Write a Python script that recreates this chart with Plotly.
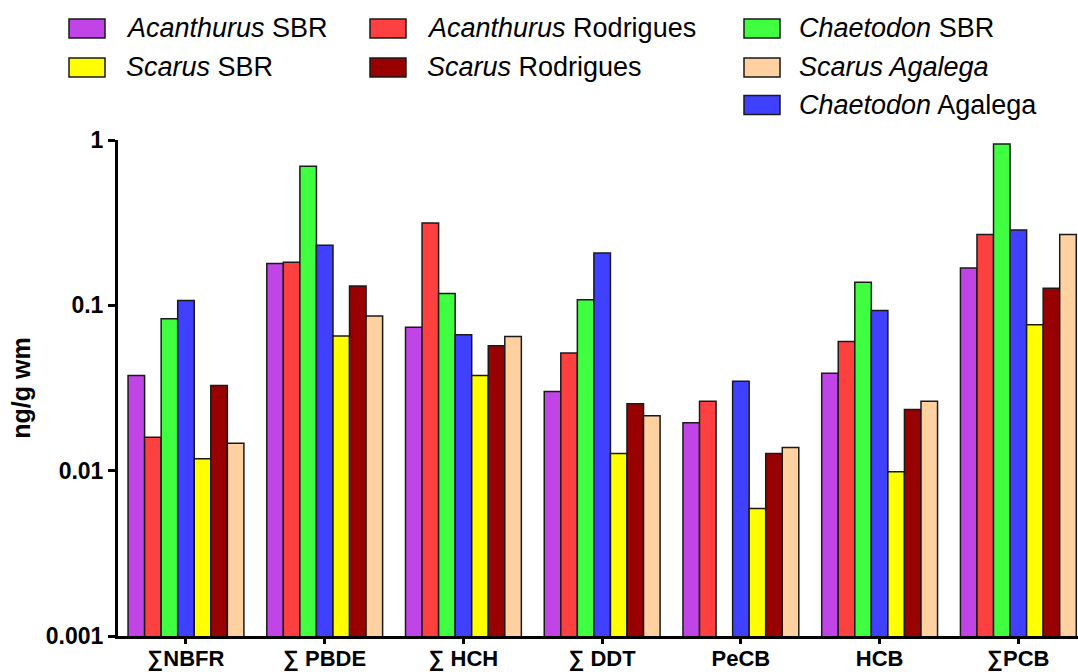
import plotly.graph_objects as go

categories = ["∑NBFR", "∑ PBDE", "∑ HCH", "∑ DDT", "PeCB", "HCB", "∑PCB"]

acanthurus_sbr = [0.0376, 0.179, 0.0736, 0.0301, 0.0195, 0.0389, 0.168]
acanthurus_rod = [0.0159, 0.182, 0.315, 0.0514, 0.0263, 0.0605, 0.268]
chaetodon_sbr = [0.083, 0.695, 0.118, 0.108, None, 0.138, 0.946]
chaetodon_aga = [0.107, 0.231, 0.0664, 0.207, 0.0348, 0.0929, 0.286]
scarus_sbr = [0.0118, 0.0652, 0.0376, 0.0127, 0.0059, 0.00986, 0.0764]
scarus_rod = [0.0327, 0.131, 0.057, 0.0254, 0.0127, 0.0234, 0.127]
scarus_aga = [0.01465, 0.0861, 0.0649, 0.0215, 0.0138, 0.0263, 0.268]

# name, values, colour, legend column, legend row
series = [
    ("<i>Acanthurus</i> SBR", acanthurus_sbr, "#C145E6", 0, 0),
    ("<i>Acanthurus</i> Rodrigues", acanthurus_rod, "#FF4040", 1, 0),
    ("<i>Chaetodon</i> SBR", chaetodon_sbr, "#40FF40", 2, 0),
    ("<i>Chaetodon</i> Agalega", chaetodon_aga, "#4040FF", 2, 2),
    ("<i>Scarus</i> SBR", scarus_sbr, "#FFFF00", 0, 1),
    ("<i>Scarus</i> Rodrigues", scarus_rod, "#990000", 1, 1),
    ("<i>Scarus Agalega</i>", scarus_aga, "#FFD0A0", 2, 1),
]

FONT = "Liberation Sans, Arial"
W, H = 1078, 672
ML, MR, MT, MB = 118, 0, 140, 36
PW, PH = W - ML - MR, H - MT - MB


def px_x(x):
    return (x - ML) / PW


def px_y(y):
    return (H - MB - y) / PH


fig = go.Figure()
for i, (name, vals, color, col, row) in enumerate(series):
    fig.add_trace(go.Bar(
        x=categories, y=vals, name=name, showlegend=False,
        marker=dict(color=color, line=dict(color="#1a1a1a", width=1.5)),
    ))

# legend drawn as swatches + text, laid out in 3 columns like the reference
col_swatch_x = [69, 370, 744]
col_text_x = [124, 425, 797]
row_y = [28.5, 67.5, 105]
shapes = []
annotations = []
for name, vals, color, col, row in series:
    x0 = col_swatch_x[col]
    yc = row_y[row]
    shapes.append(dict(
        type="rect", xref="paper", yref="paper",
        x0=px_x(x0), x1=px_x(x0 + 36), y0=px_y(yc + 9.5), y1=px_y(yc - 9.5),
        fillcolor=color, line=dict(color="#1a1a1a", width=1.5),
    ))
    annotations.append(dict(
        text=name, xref="paper", yref="paper",
        x=px_x(col_text_x[col]), y=px_y(yc), xanchor="left", yanchor="middle",
        showarrow=False, font=dict(family=FONT, size=27, color="black"),
    ))

fig.update_layout(
    width=W, height=H,
    margin=dict(l=ML, r=MR, t=MT, b=MB, autoexpand=False),
    plot_bgcolor="white", paper_bgcolor="white",
    barmode="group", bargap=0.165, bargroupgap=0,
    showlegend=False,
    shapes=shapes, annotations=annotations,
    xaxis=dict(
        range=[-0.49, 6.43], showline=True, linewidth=3, linecolor="black",
        ticks="outside", ticklen=5, tickwidth=3, tickcolor="black",
        tickfont=dict(family=FONT, size=22, color="black", weight="bold"),
        ticklabelstandoff=-4,
        showgrid=False, zeroline=False,
    ),
    yaxis=dict(
        type="log", range=[-3, 0], showline=True, linewidth=3, linecolor="black",
        ticks="outside", ticklen=7, tickwidth=3, tickcolor="black",
        tickvals=[0.001, 0.01, 0.1, 1], ticktext=["0.001", "0.01", "0.1", "1"],
        tickfont=dict(family=FONT, size=23, color="black", weight="bold"),
        showgrid=False, zeroline=False,
        title=dict(text="ng/g wm", font=dict(family=FONT, size=25, color="black", weight="bold"), standoff=9),
    ),
)

fig.write_html(
    "out.html",
    config={"displayModeBar": False},
    post_script="document.body.style.margin='0';document.body.style.overflow='hidden';",
)
